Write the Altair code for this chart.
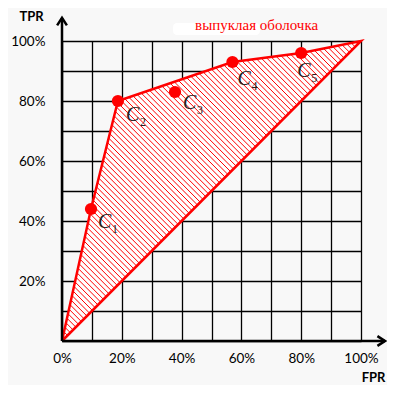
import altair as alt
import pandas as pd
import numpy as np

# ---- data ----
fpr = [9.7, 18.7, 37.8, 57.0, 80.0]
tpr = [44.0, 80.0, 83.0, 93.0, 96.0]
names = ["C", "C", "C", "C", "C"]
subs = ["1", "2", "3", "4", "5"]
on_hull = [True, True, False, True, True]
# label offsets in pixels (right, down) from each point
label_dx = [7, 8, 8, 5, -4]
label_dy = [13, 13.5, 10.5, 16.5, 18]

grid_values = list(range(0, 101, 10))
legend_text = "выпуклая оболочка"
x_title = "FPR"
y_title = "TPR"

W, H = 299, 300
PX = W / 100.0
PY = H / 100.0

# ---- derived tables ----
hull = [(0.0, 0.0)] + [(f, t) for f, t, h in zip(fpr, tpr, on_hull) if h] + [(100.0, 100.0)]
area_df = pd.DataFrame({"x": [p[0] for p in hull], "y": [p[1] for p in hull],
                        "y2": [p[0] for p in hull]})
outline = hull + [(0.0, 0.0)]
outline_df = pd.DataFrame({"x": [p[0] for p in outline], "y": [p[1] for p in outline],
                           "o": list(range(len(outline)))})

# hatch lines x + y = c clipped to the hull polygon
step = 1.85
segs = []
poly = hull
for c in np.arange(step, 200, step):
    pts = []
    for (x1, y1), (x2, y2) in zip(poly, poly[1:] + poly[:1]):
        f1 = x1 + y1 - c
        f2 = x2 + y2 - c
        if f1 * f2 < 0:
            t = f1 / (f1 - f2)
            pts.append((x1 + t * (x2 - x1), y1 + t * (y2 - y1)))
    if len(pts) >= 2:
        pts.sort()
        segs.append({"x": pts[0][0], "y": pts[0][1], "x2": pts[-1][0], "y2": pts[-1][1]})
hatch_df = pd.DataFrame(segs)

pts_df = pd.DataFrame({"x": fpr, "y": tpr, "name": names, "sub": subs,
                       "lx": [f + d / PX for f, d in zip(fpr, label_dx)],
                       "ly": [t - d / PY for t, d in zip(tpr, label_dy)]})

axis_end_x = 108.0
axis_end_y = 107.7
axes_df = pd.DataFrame({"x": [0.0, 0.0], "y": [0.0, 0.0], "x2": [axis_end_x, 0.0], "y2": [0.0, axis_end_y]})
arrow_r_df = pd.DataFrame({"x": [axis_end_x], "y": [0.0]})
arrow_u_df = pd.DataFrame({"x": [0.0], "y": [axis_end_y]})

legend_df = pd.DataFrame({"x": [44.5], "y": [105.5], "t": [legend_text]})
legend_box_df = pd.DataFrame({"x": [37.1], "x2": [66.2], "y": [106.0], "y2": [102.0]})

# ---- scales / axes ----
sx = alt.Scale(domain=[0, 100], nice=False, zero=False)
sy = alt.Scale(domain=[0, 100], nice=False, zero=False)
common_axis = dict(values=grid_values, grid=True, gridColor="#000000", gridWidth=1.3,
                   gridOpacity=1, domain=False, ticks=False, tickSize=0,
                   labelFont="Lato", labelFontSize=13.5, labelColor="#000000",
                   labelOverlap=False, labelFlush=False,
                   titleFont="Lato", titleFontSize=13, titleFontWeight="bold",
                   titleColor="#000000", titleAngle=0, titleAlign="center",
                   titleBaseline="middle")
ax_x = alt.Axis(labelExpr="datum.value % 20 == 0 ? datum.value + '%' : ''",
                labelPadding=10, titleX=311, titleY=36, **common_axis)
ax_y = alt.Axis(labelExpr="(datum.value % 20 == 0 && datum.value > 0) ? datum.value + '%' : ''",
                labelPadding=17, titleX=-31, titleY=-25, **common_axis)


def X(f="x"):
    return alt.X(f, type="quantitative", scale=sx, axis=ax_x, title=x_title)


def Y(f="y"):
    return alt.Y(f, type="quantitative", scale=sy, axis=ax_y, title=y_title)


RED = "#ff0000"

area = alt.Chart(area_df).mark_area(color="#ffffff", opacity=1).encode(
    x=X(), y=Y(), y2=alt.Y2("y2"))
hatch = alt.Chart(hatch_df).mark_rule(color=RED, strokeWidth=1).encode(
    x=X(), y=Y(), x2=alt.X2("x2"), y2=alt.Y2("y2"))
line = alt.Chart(outline_df).mark_line(color=RED, strokeWidth=2.5).encode(
    x=X(), y=Y(), order=alt.Order("o:Q"))
points = alt.Chart(pts_df).mark_circle(color=RED, size=150, opacity=1).encode(x=X(), y=Y())
lab_c = alt.Chart(pts_df).mark_text(font="Liberation Serif", fontStyle="italic", fontSize=20,
                                    color="#222222", align="left", baseline="middle").encode(
    x=X("lx"), y=Y("ly"), text="name:N")
lab_s = alt.Chart(pts_df).mark_text(font="Liberation Serif", fontSize=12, color="#222222",
                                    align="left", baseline="middle", dx=14, dy=7).encode(
    x=X("lx"), y=Y("ly"), text="sub:N")
axes = alt.Chart(axes_df).mark_rule(color="#000000", strokeWidth=2.5).encode(
    x=X(), y=Y(), x2=alt.X2("x2"), y2=alt.Y2("y2"))
arrow_r = alt.Chart(arrow_r_df).mark_point(shape="M-1,-0.65L0,0L-1,0.65", size=225, filled=False,
                                           color="#000000", strokeWidth=2.5, opacity=1).encode(
    x=X(), y=Y())
arrow_u = alt.Chart(arrow_u_df).mark_point(shape="M-0.65,1L0,0L0.65,1", size=225, filled=False,
                                           color="#000000", strokeWidth=2.5, opacity=1).encode(
    x=X(), y=Y())
leg_box = alt.Chart(legend_box_df).mark_rect(color="#ffffff", cornerRadius=4).encode(
    x=X(), x2=alt.X2("x2"), y=Y(), y2=alt.Y2("y2"))
leg_text = alt.Chart(legend_df).mark_text(font="Liberation Serif", fontSize=15, color=RED,
                                          align="left", baseline="middle").encode(
    x=X(), y=Y(), text="t:N")

chart = alt.layer(area, hatch, line, points, lab_c, lab_s, axes, arrow_r, arrow_u,
                  leg_box, leg_text).properties(
    width=W, height=H, autosize="none",
    padding={"left": 54, "top": 33, "right": 26, "bottom": 44},
    background="#f8f8f8",
).configure_view(strokeWidth=0)

chart.save("out.html", embed_options={"renderer": "svg", "actions": False})
